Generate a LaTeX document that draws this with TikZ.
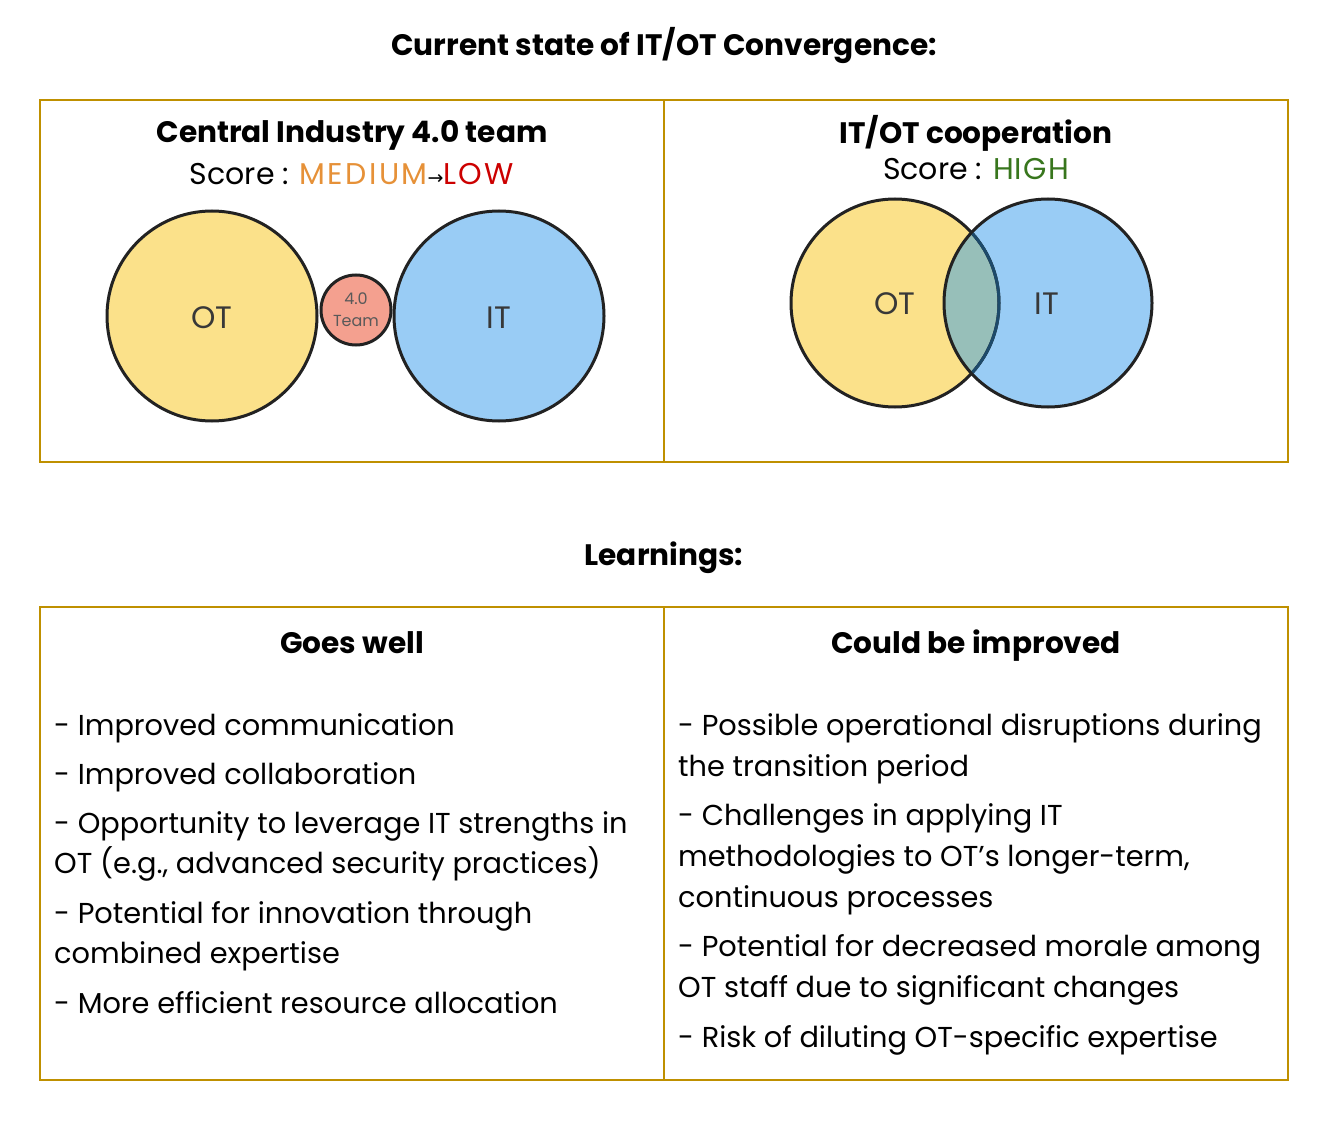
\documentclass[tikz,border=0pt]{standalone}
\usepackage{fontspec}
\setmainfont{Poppins}
\newfontfamily\arrowfont{DejaVu Sans}
\definecolor{gold}{HTML}{BF9000}
\definecolor{otyellow}{HTML}{FBE18A}
\definecolor{itblue}{HTML}{99CCF5}
\definecolor{teamred}{HTML}{F4A08F}
\definecolor{overlap}{HTML}{97BFB9}
\definecolor{innerline}{HTML}{1D4A6A}
\definecolor{medium}{HTML}{E69138}
\definecolor{low}{HTML}{CC0000}
\definecolor{high}{HTML}{38761D}
\definecolor{ink}{HTML}{222222}
\newcommand{\spaced}[2]{{\addfontfeature{LetterSpace=#1}#2}}
\tikzset{
  panel/.style={draw=gold, line width=2pt},
  venn/.style={draw=ink, line width=3pt},
  head/.style={font=\fontsize{29.6}{34}\selectfont\bfseries, anchor=base, inner sep=0pt},
  score/.style={font=\fontsize{30}{34}\selectfont, anchor=base, inner sep=0pt},
  body/.style={font=\fontsize{28.8}{34}\selectfont, anchor=base west, inner sep=0pt},
  clabel/.style={font=\fontsize{31}{36}\selectfont, text=ink!90, inner sep=0pt},
}
\begin{document}
\begin{tikzpicture}[x=1pt,y=-1pt]
\useasboundingbox (0,0) rectangle (1328,1134);
% titles
\node[head] (title) at (664,56) {Current state of IT/OT Convergence:};
\node[head] (learn) at (664,565) {Learnings:};
% top panel
\draw[panel] (40,100) rectangle (1288,462);
\draw[panel] (664,100) -- (664,462);
\node[head] (h1) at (352,143) {Central Industry 4.0 team};
\node[score] (s1) at (352,185) {Score : \textcolor{medium}{\spaced{8}{MEDIUM}}{\arrowfont\fontsize{19}{19}\selectfont→}\textcolor{low}{\spaced{8}{LOW}}};
\node[head] (h2) at (976,144) {IT/OT cooperation};
\node[score] (s2) at (976,180) {Score : \textcolor{high}{\spaced{4}{HIGH}}};
% left circles
\draw[venn, fill=otyellow] (212,316) circle (105);
\draw[venn, fill=itblue] (499,316) circle (105);
\draw[venn, fill=teamred] (356,310) circle (35);
\node[clabel] (ot1) at (212,318) {OT};
\node[clabel] (it1) at (499,318) {IT};
\node[font=\fontsize{16}{22}\selectfont, text=black!65, align=center, inner sep=0pt] (team) at (356,310) {4.0\\Team};
% right venn
\fill[otyellow] (895,303) circle (104);
\fill[itblue] (1048,303) circle (104);
\begin{scope}
  \clip (895,303) circle (104);
  \fill[overlap] (1048,303) circle (104);
\end{scope}
\draw[venn] (895,303) circle (104);
\draw[venn] (1048,303) circle (104);
\begin{scope}
  \clip (1048,303) circle (102.5);
  \draw[line width=3pt, draw=innerline] (895,303) circle (104);
\end{scope}
\node[clabel] (ot2) at (895,304) {OT};
\node[clabel] (it2) at (1047,304) {IT};
% bottom panel
\draw[panel] (40,607) rectangle (1288,1080);
\draw[panel] (664,607) -- (664,1080);
\node[head] (g) at (352,653) {Goes well};
\node[head] (c) at (976,653) {Could be improved};
\node[body] (l1) at (54,735) {- Improved communication};
\node[body] (l2) at (54,784) {- Improved collaboration};
\node[body] (l3) at (54,833) {- Opportunity to leverage IT strengths in};
\node[body] (l3b) at (54,873) {OT (e.g., advanced security practices)};
\node[body] (l4) at (54,923) {- Potential for innovation through};
\node[body] (l4b) at (54,963) {combined expertise};
\node[body] (l5) at (54,1013) {- More efficient resource allocation};
\node[body] (r1) at (678,735) {- Possible operational disruptions during};
\node[body] (r1b) at (678,776) {the transition period};
\node[body] (r2) at (678,825) {- Challenges in applying IT};
\node[body] (r2b) at (678,866) {methodologies to OT{\char"27}s longer-term,};
\node[body] (r2c) at (678,907) {continuous processes};
\node[body] (r3) at (678,956) {- Potential for decreased morale among};
\node[body] (r3b) at (678,997) {OT staff due to significant changes};
\node[body] (r4) at (678,1047) {- Risk of diluting OT-specific expertise};
\end{tikzpicture}
\end{document}
